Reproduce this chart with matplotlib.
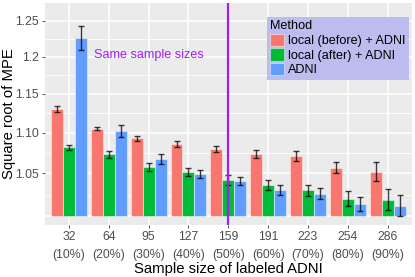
import numpy as np
import matplotlib
matplotlib.use('Agg')
import matplotlib.pyplot as plt
from matplotlib.patches import Patch
from matplotlib.ticker import FixedLocator, NullFormatter, NullLocator

plt.rcParams['font.family'] = ['Liberation Sans', 'DejaVu Sans']

sizes = ['32', '64', '95', '127', '159', '191', '223', '254', '286']
pcts = ['(10%)', '(20%)', '(30%)', '(40%)', '(50%)', '(60%)', '(70%)', '(80%)', '(90%)']

before = [1.130, 1.105, 1.093, 1.086, 1.080, 1.073, 1.071, 1.057, 1.052]
before_err = [0.004, 0.002, 0.003, 0.0035, 0.0036, 0.005, 0.006, 0.007, 0.0115]
after = [1.082, 1.073, 1.058, 1.052, 1.042, 1.036, 1.030, 1.020, 1.019]
after_err = [0.003, 0.004, 0.005, 0.005, 0.006, 0.006, 0.0065, 0.0087, 0.012]
adni = [1.226, 1.102, 1.067, 1.049, 1.041, 1.030, 1.026, 1.014, 1.012]
adni_err = [0.017, 0.008, 0.006, 0.005, 0.005, 0.006, 0.0065, 0.008, 0.012]

methods = ['local (before) + ADNI', 'local (after) + ADNI', 'ADNI']
colors = ['#F8766D', '#00BA38', '#619CFF']
yticks = [1.05, 1.10, 1.15, 1.2, 1.25]
ylabels = ['1.05', '1.10', '1.15', '1.2', '1.25']

fig = plt.figure(figsize=(4.15, 2.77), dpi=100)
ax = fig.add_axes([0.1084, 0.1877, 0.992 - 0.1084, 0.989 - 0.1877])
ax.set_facecolor('#EBEBEB')
for s in ax.spines.values():
    s.set_visible(False)

ax.set_yscale('log')
ax.set_ylim(0.9898, 1.2756)
ax.set_xlim(-0.6, len(sizes) - 0.4)

# grid (ggplot style)
major = [1.0] + yticks
minor = [np.sqrt(major[i] * major[i + 1]) for i in range(len(major) - 1)]
for v in minor:
    ax.axhline(v, color='white', lw=0.6, zorder=0.4)
for v in major:
    ax.axhline(v, color='white', lw=1.2, zorder=0.5)
x = np.arange(len(sizes))
for xi in x:
    ax.axvline(xi, color='white', lw=1.2, zorder=0.5)

w = 0.3
series = [(before, before_err), (after, after_err), (adni, adni_err)]
for k, (vals, errs) in enumerate(series):
    pos = x + (k - 1) * w
    heights = np.array(vals) - 1.0
    ax.bar(pos, heights, width=w, bottom=1.0, color=colors[k],
           edgecolor=(1, 1, 1, 0.45), linewidth=0.8, zorder=2)
    ax.errorbar(pos, vals, yerr=errs, fmt='none', ecolor='black', alpha=0.75,
                elinewidth=1.0, capsize=2.4, capthick=1.0, zorder=3)

ax.axvline(4, color='#A020F0', lw=1.6, zorder=4)
ax.text(2, 1.202, 'Same sample sizes', color='#A020F0', fontsize=9.1,
        ha='center', va='center', zorder=4)

ax.yaxis.set_major_locator(FixedLocator(yticks))
ax.set_yticklabels(ylabels)
ax.yaxis.set_minor_locator(NullLocator())
ax.yaxis.set_minor_formatter(NullFormatter())
ax.set_xticks(x)
ax.set_xticklabels([f'{a}\n{b}' for a, b in zip(sizes, pcts)], linespacing=1.6)
ax.tick_params(axis='both', colors='#333333', labelcolor='#4D4D4D',
               labelsize=8.8, length=2.5, width=0.6, pad=2)

ax.set_xlabel('Sample size of labeled ADNI', fontsize=10.7, labelpad=1)
ax.set_ylabel('Square root of MPE', fontsize=10.7)
ax.yaxis.set_label_coords(-0.08, 0.5)

handles = [Patch(facecolor=c, edgecolor=(1, 1, 1, 0.45), linewidth=0.8) for c in colors]
leg = fig.legend(handles, methods, title='Method', loc='upper left',
                 bbox_to_anchor=(0.6426, 0.9397), bbox_transform=fig.transFigure,
                 borderaxespad=0, fontsize=9.1, title_fontsize=9.1,
                 frameon=True, fancybox=False, facecolor='#BCBCEF',
                 edgecolor='none', framealpha=1, handlelength=1.1,
                 handleheight=1.1, handletextpad=0.25, labelspacing=0.1,
                 borderpad=0.3, alignment='left')

fig.savefig('out.png', dpi=100)
